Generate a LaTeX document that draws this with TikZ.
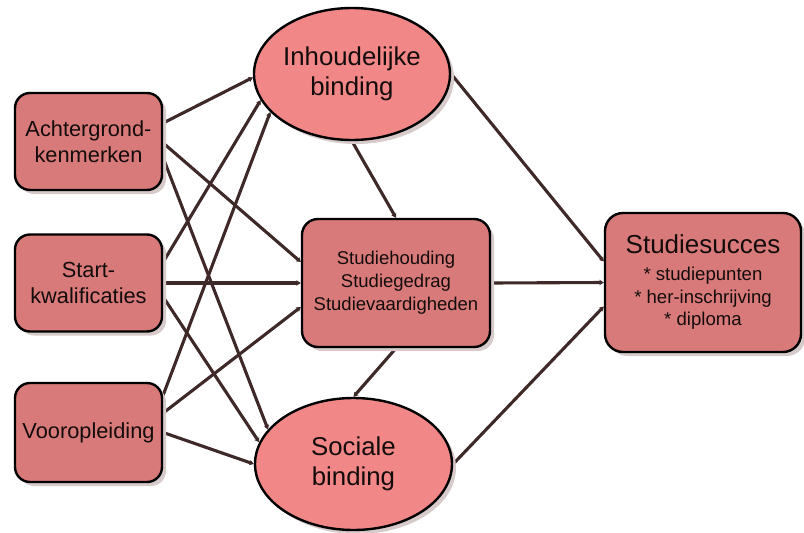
\documentclass[tikz,border=0pt]{standalone}
\usepackage{fontspec}
\setmainfont{Liberation Sans}
\usetikzlibrary{shapes.geometric,shadows,arrows.meta,calc,backgrounds}
\definecolor{boxfill}{RGB}{217,122,122}
\definecolor{ellfill}{RGB}{241,135,135}
\definecolor{linecol}{RGB}{62,40,40}
\definecolor{shadowcol}{RGB}{214,202,202}
\definecolor{txtcol}{RGB}{20,12,12}
\begin{document}
\begin{tikzpicture}[x=1pt,y=-1pt,
  base/.style={draw=black,line width=2.4pt,text=txtcol,align=center,inner sep=0pt,
    drop shadow={shadow xshift=4pt,shadow yshift=-4pt,fill=shadowcol,opacity=1}},
  sidebox/.style={base,rectangle,rounded corners=15pt,fill=boxfill,
    minimum width=147pt,minimum height=97pt,font=\fontsize{21.8}{26.5}\selectfont},
  ellnode/.style={base,ellipse,fill=ellfill,minimum width=196pt,minimum height=132pt,
    font=\fontsize{25.8}{29.5}\selectfont},
  midbox/.style={base,rectangle,rounded corners=16pt,fill=boxfill,
    minimum width=188pt,minimum height=128pt,font=\fontsize{18.5}{23}\selectfont},
  succbox/.style={base,rectangle,rounded corners=18pt,fill=boxfill,
    minimum width=196pt,minimum height=139pt,font=\fontsize{18.6}{22.5}\selectfont},
  conn/.style={draw=linecol,line width=3.1pt,-{Stealth[length=4.5pt,width=5.5pt]}}
]
\useasboundingbox (0,0) rectangle (804,533);

\node[sidebox] (A) at (88.5,141.5) {Achtergrond-\\kenmerken};
\node[sidebox] (S) at (88.5,283) {Start-\\kwalificaties};
\node[sidebox,minimum height=99pt] (V) at (88.5,432.5) {Vooropleiding};
\node[ellnode] (I) at (352,74) {Inhoudelijke\\binding};
\node[ellnode,minimum width=197pt] (Soc) at (353.5,464) {Sociale\\binding};
\node[midbox] (M) at (396,283) {Studiehouding\\Studiegedrag\\Studievaardigheden};
\node[succbox] (R) at (703,282.5) {{\fontsize{26}{26}\selectfont Studiesucces}\\[4.5pt]* studiepunten\\* her-inschrijving\\* diploma};

\begin{scope}[on background layer]
\draw[conn] ($(A.east)+(0,-18.5)$) -- (I.182);
\draw[conn] ($(A.east)+(0,1.5)$) -- ($(M.west)+(0,-21)$);
\draw[conn] ($(A.east)+(0,16.5)$) -- (Soc.158);
\draw[conn] ($(S.east)+(0,-21)$) -- (I.196);
\draw[conn] (S.east) -- (M.west);
\draw[conn] ($(S.east)+(0,14)$) -- (Soc.167);
\draw[conn] ($(V.east)+(0,-37.5)$) -- (I.205);
\draw[conn] ($(V.east)+(0,-19.5)$) -- ($(M.west)+(0,24)$);
\draw[conn] (V.east) -- (Soc.west);
\draw[conn] (I.south) -- (M.north);
\draw[conn] (M.south) -- (Soc.north);
\draw[conn] (I.east) -- ($(R.west)+(0,-21)$);
\draw[conn] (M.east) -- (R.west);
\draw[conn] (Soc.east) -- ($(R.west)+(0,24)$);
\end{scope}
\end{tikzpicture}
\end{document}
